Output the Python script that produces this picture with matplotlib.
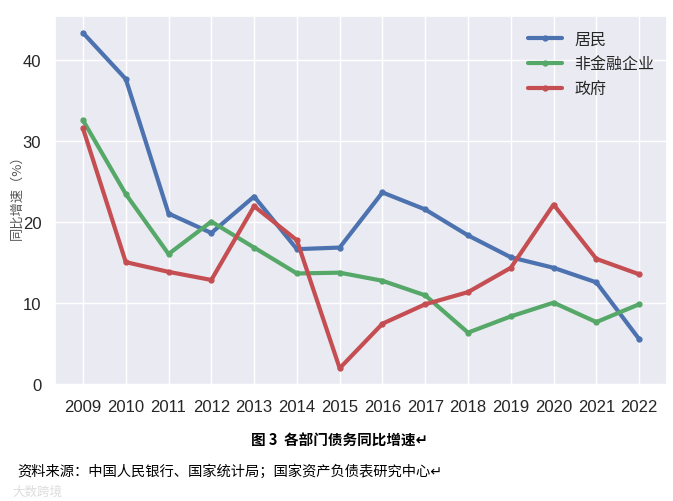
import matplotlib
matplotlib.use("Agg")
import matplotlib.pyplot as plt
import seaborn as sns

years = list(range(2009, 2023))
household = [43.3, 37.6, 21.0, 18.6, 23.1, 16.6, 16.8, 23.6, 21.5, 18.3, 15.6, 14.3, 12.5, 5.5]
nonfin_corp = [32.5, 23.4, 16.0, 20.0, 16.8, 13.6, 13.7, 12.7, 10.9, 6.3, 8.3, 10.0, 7.6, 9.8]
government = [31.5, 15.0, 13.8, 12.8, 21.9, 17.7, 1.9, 7.4, 9.8, 11.3, 14.3, 22.1, 15.4, 13.5]
series_names = ["居民", "非金融企业", "政府"]

sns.set_theme(style="darkgrid")
plt.rcParams['font.family'] = ['Noto Sans CJK SC', 'DejaVu Sans']
plt.rcParams['axes.unicode_minus'] = False

colors = ["#4C72B0", "#55A868", "#C44E52"]

fig = plt.figure(figsize=(6.73, 5.02), dpi=100)
ax = fig.add_axes([0.082, 0.231, 0.909, 0.735])

for vals, name, c in zip([household, nonfin_corp, government], series_names, colors):
    ax.plot(years, vals, color=c, linewidth=3, marker='o', markersize=3.5, label=name)

ax.set_xticks(years)
for lab in ax.get_xticklabels() + ax.get_yticklabels():
    lab.set_fontfamily(['Liberation Sans', 'DejaVu Sans'])
    lab.set_fontsize(12)
    lab.set_color("#262626")
ax.set_yticks([0, 10, 20, 30, 40])
ax.set_ylabel("同比增速（%）", fontsize=9.5, color="#555555")
ax.yaxis.set_label_coords(-0.052, 0.52)
ax.tick_params(axis='both', pad=4)

leg = ax.legend(loc="upper right", frameon=False, fontsize=11.5, handlelength=2.1,
                borderaxespad=0.5, labelspacing=0.5, handletextpad=0.8,
                bbox_to_anchor=(1.003, 1.0))

fig.text(0.505, 0.123, "图 3  各部门债务同比增速↵", ha="center", va="center",
         fontsize=10.5, fontweight="bold", color="black",
         family=['Noto Sans CJK SC', 'DejaVu Sans'])
fig.text(0.025, 0.06, "资料来源：中国人民银行、国家统计局；国家资产负债表研究中心↵",
         ha="left", va="center", fontsize=10.3, color="black",
         family=['Noto Sans CJK SC', 'DejaVu Sans'])
fig.text(0.018, 0.02, "大数跨境", ha="left", va="center", fontsize=9,
         color="#dddddd", family=['Noto Sans CJK SC', 'DejaVu Sans'])

fig.savefig("out.png", dpi=100, facecolor="white")
